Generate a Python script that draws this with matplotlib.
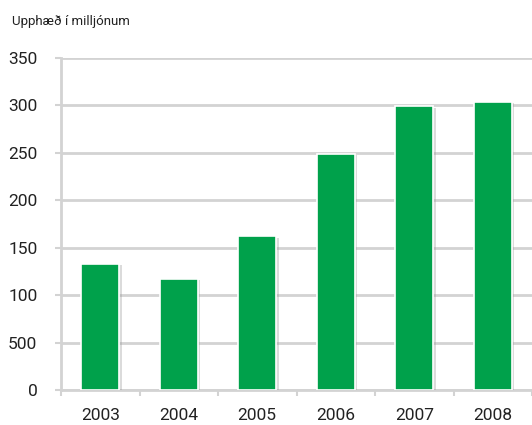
import matplotlib
matplotlib.use("Agg")
import matplotlib.pyplot as plt
import matplotlib.patheffects as pe

years = ["2003", "2004", "2005", "2006", "2007", "2008"]
values = [133, 117, 162, 249, 299, 304]
ytick_values = [0, 50, 100, 150, 200, 250, 300, 350]
ytick_labels = ["0", "500", "100", "150", "200", "250", "300", "350"]
unit_label = "Upphæð í milljónum"

plt.rcParams['font.family'] = ['Roboto', 'DejaVu Sans']

fig = plt.figure(figsize=(5.32, 4.25), dpi=100)
ax = fig.add_axes([61/532, 1-390/425, 1-61/532, (390-58)/425])

grid_c = "#d3d3d3"
x = list(range(len(years)))
bars = ax.bar(x, values, width=0.49, color="#00a14b", edgecolor="white",
              linewidth=1.2, zorder=3)
for b in bars:
    b.set_path_effects([pe.SimplePatchShadow(offset=(1.5, -1), shadow_rgbFace="#999999", alpha=0.35),
                        pe.Normal()])

ax.set_xlim(-0.5, 5.5)
ax.set_ylim(0, 350)
ax.set_yticks(ytick_values)
ax.set_yticklabels(ytick_labels, fontsize=12.5, color="#222222")
ax.set_xticks(x)
ax.set_xticklabels(years, fontsize=12.5, color="#222222")
ax.set_xticks([i + 0.5 for i in range(-1, len(years))], minor=True)
ax.tick_params(axis='x', which='major', length=0, pad=13)
ax.tick_params(axis='x', which='minor', length=4, color=grid_c, width=1.5)
ax.tick_params(axis='y', length=4, color=grid_c, width=1.5, pad=13)
ax.yaxis.grid(True, color=grid_c, linewidth=2)
ax.set_axisbelow(True)
for s in ["top", "right"]:
    ax.spines[s].set_visible(False)
for s in ["left", "bottom"]:
    ax.spines[s].set_color(grid_c)
    ax.spines[s].set_linewidth(2)

fig.text(12/532, 1-21/425, unit_label, fontsize=9.5, color="#222222", va="center")

fig.savefig("out.png", dpi=100)
